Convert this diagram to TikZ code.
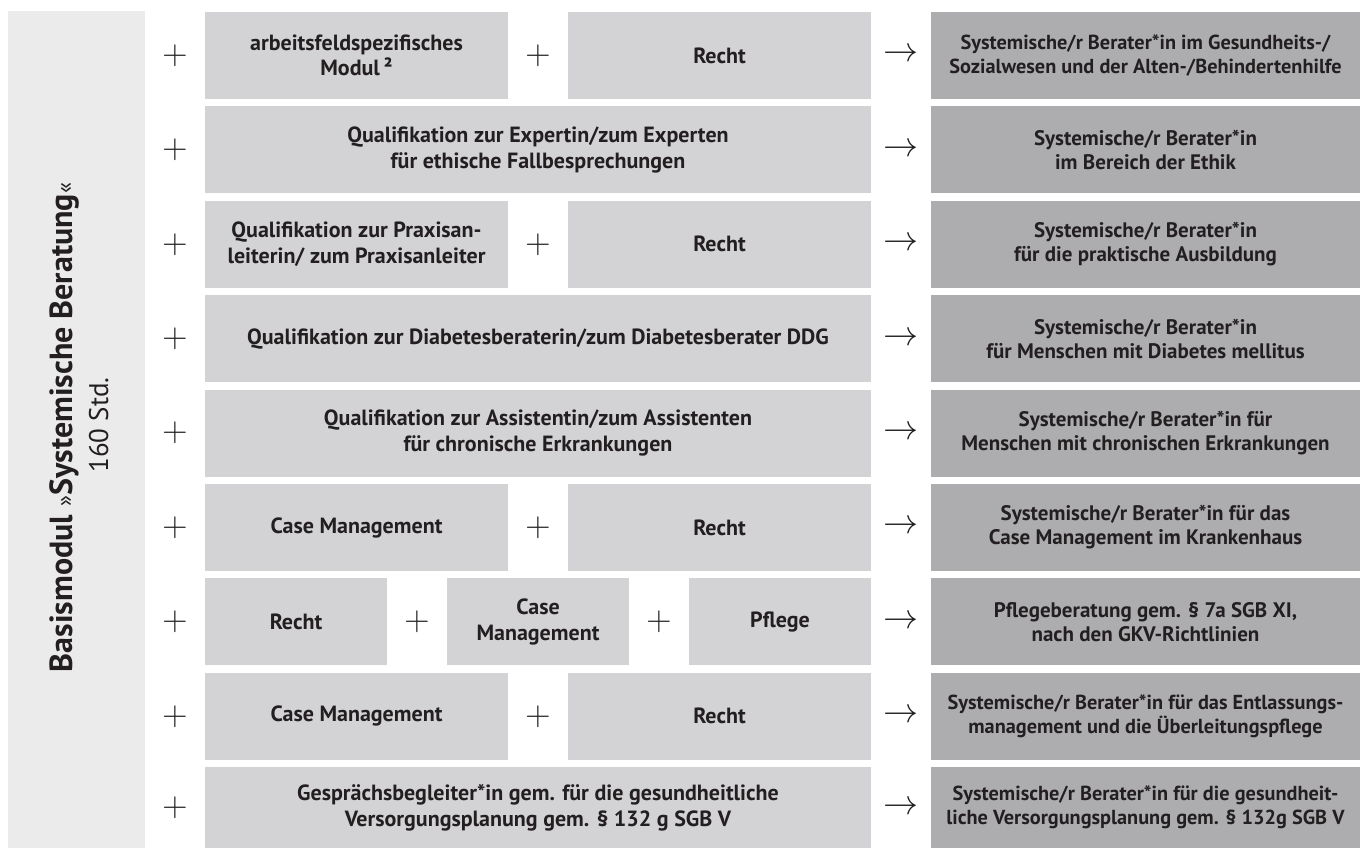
\documentclass[tikz,border=0pt]{standalone}
\usepackage{fix-cm}
\usepackage{fontspec}
\setmainfont{PT Sans}
\definecolor{panelg}{HTML}{EBEBEC}
\definecolor{midg}{HTML}{D3D3D5}
\definecolor{resg}{HTML}{ADADB0}
\definecolor{ink}{HTML}{231F20}
\tikzset{
  boxbase/.style={rectangle, inner sep=0pt, align=center, text=ink},
  midbox/.style={boxbase, fill=midg, font=\fontsize{22}{25.5}\selectfont\bfseries},
  resbox/.style={boxbase, fill=resg, minimum width=429pt, font=\fontsize{21}{24}\selectfont\bfseries},
  full/.style={midbox, minimum width=666pt},
  half/.style={midbox, minimum width=303pt},
  third/.style={midbox, minimum width=182pt},
  rowh/.style={minimum height=87pt},
  lastrow/.style={minimum height=80.8pt},
  tight/.style={font=\fontsize{20.3}{24}\selectfont\bfseries},
  opsym/.style={inner sep=0pt, text=ink, font=\fontsize{35}{35}\selectfont},
  vtext/.style={rotate=90, anchor=base, inner sep=0pt, text=ink}
}

\begin{document}

\begin{tikzpicture}[x=1pt, y=-1pt]
\useasboundingbox (0,0) rectangle (1360,848);
% left panel
\node[rectangle, fill=panelg, inner sep=0pt, minimum width=137pt, minimum height=837pt] (panel) at (76.5,429.5) {};
\node[vtext, font=\fontsize{32}{32}\selectfont\bfseries] (basis) at (72,427.5)
  {Basismodul {\mdseries\fontsize{23}{23}\selectfont »}Systemische Beratung{\mdseries\fontsize{23}{23}\selectfont «}};
\node[vtext, font=\fontsize{27}{27}\selectfont] (std) at (108,425) {160 Std.};

% row 1
\node[half, rowh] (r1a) at (356.5,55.5) {arbeitsfeldspezifisches\\Modul\,²};
\node[half, rowh] (r1b) at (719.5,55.5) {Recht};
\node[resbox, rowh, tight] (r1r) at (1145.5,55.5) {Systemische/r Berater*in im Gesundheits-/\\Sozialwesen und der Alten-/Behindertenhilfe};
% row 2
\node[full, rowh] (r2a) at (538,149.9) {Qualifikation zur Expertin/zum Experten\\für ethische Fallbesprechungen};
\node[resbox, rowh] (r2r) at (1145.5,149.9) {Systemische/r Berater*in\\im Bereich der Ethik};
% row 3
\node[half, rowh] (r3a) at (356.5,244.3) {Qualifikation zur Praxisan-\\leiterin/ zum Praxisanleiter};
\node[half, rowh] (r3b) at (719.5,244.3) {Recht};
\node[resbox, rowh] (r3r) at (1145.5,244.3) {Systemische/r Berater*in\\für die praktische Ausbildung};
% row 4
\node[full, rowh] (r4a) at (538,338.7) {Qualifikation zur Diabetesberaterin/zum Diabetesberater DDG};
\node[resbox, rowh] (r4r) at (1145.5,338.7) {Systemische/r Berater*in\\für Menschen mit Diabetes mellitus};
% row 5
\node[full, rowh] (r5a) at (538,433.1) {Qualifikation zur Assistentin/zum Assistenten\\für chronische Erkrankungen};
\node[resbox, rowh] (r5r) at (1145.5,433.1) {Systemische/r Berater*in für\\Menschen mit chronischen Erkrankungen};
% row 6
\node[half, rowh] (r6a) at (356.5,527.5) {Case Management};
\node[half, rowh] (r6b) at (719.5,527.5) {Recht};
\node[resbox, rowh] (r6r) at (1145.5,527.5) {Systemische/r Berater*in für das\\Case Management im Krankenhaus};
% row 7
\node[third, rowh] (r7a) at (296,621.9) {Recht};
\node[third, rowh] (r7b) at (538,621.9) {Case\\Management};
\node[third, rowh] (r7c) at (780,621.9) {Pflege};
\node[resbox, rowh] (r7r) at (1145.5,621.9) {Pflegeberatung gem. § 7a SGB XI,\\nach den GKV-Richtlinien};
% row 8
\node[half, rowh] (r8a) at (356.5,716.3) {Case Management};
\node[half, rowh] (r8b) at (719.5,716.3) {Recht};
\node[resbox, rowh, tight] (r8r) at (1145.5,716.3) {Systemische/r Berater*in für das Entlassungs-\\management und die Überleitungspflege};
% row 9
\node[full, lastrow] (r9a) at (538,807.6) {Gesprächsbegleiter*in gem. für die gesundheitliche\\Versorgungsplanung gem. § 132 g SGB V};
\node[resbox, lastrow, tight] (r9r) at (1145.5,807.6) {Systemische/r Berater*in für die gesundheit-\\liche Versorgungsplanung gem. § 132g SGB V};

% operators
\foreach \i/\yy in {1/55.5,2/149.9,3/244.3,4/338.7,5/433.1,6/527.5,7/621.9,8/716.3,9/807.6}{
  \node[opsym] (plus\i) at (175,\yy) {$+$};
  \node[opsym] (arr\i) at (901,\yy) {$\rightarrow$};
}
\foreach \i/\yy in {1/55.5,3/244.3,6/527.5,8/716.3}{
  \node[opsym] (mplus\i) at (538,\yy) {$+$};
}
\node[opsym] (m7a) at (417,621.9) {$+$};
\node[opsym] (m7b) at (659,621.9) {$+$};
\end{tikzpicture}

\end{document}
